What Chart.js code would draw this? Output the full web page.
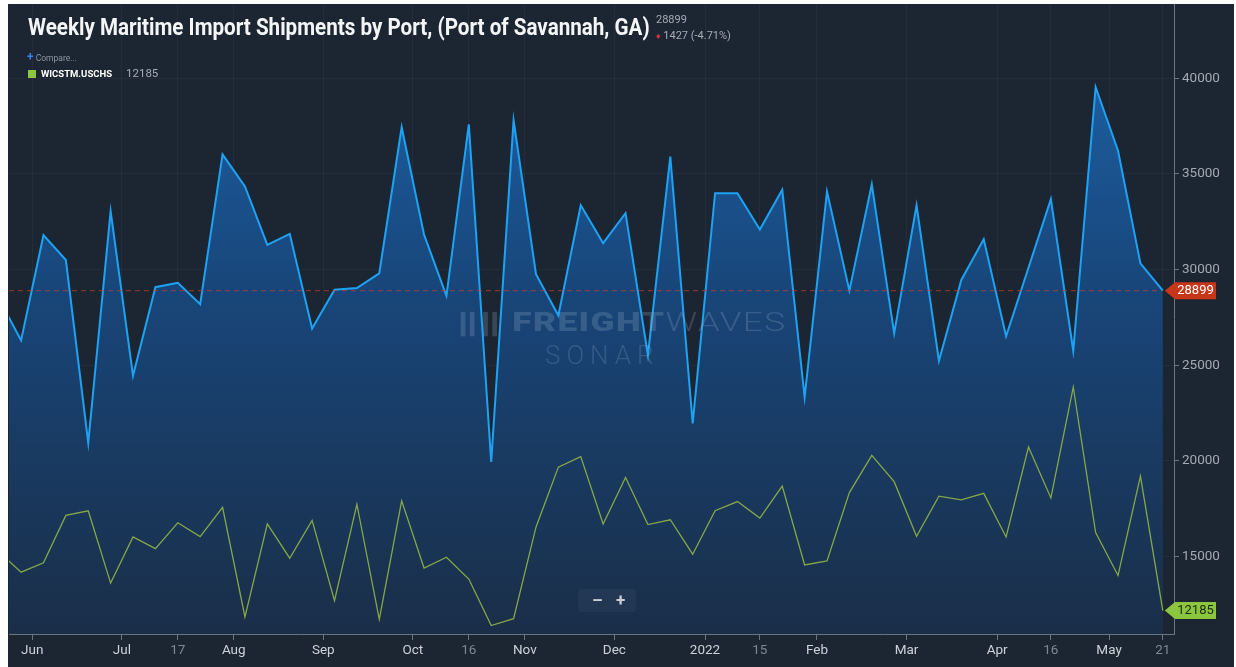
<!DOCTYPE html>
<html lang="en">
<head>
<meta charset="UTF-8" />
<title>Weekly Maritime Import Shipments by Port, (Port of Savannah, GA)</title>
<script src="https://cdn.jsdelivr.net/npm/chart.js@4.4.1/dist/chart.umd.min.js"></script>
<style>
  html, body { margin: 0; padding: 0; background: #fff; }
  body { width: 1236px; height: 667px; position: relative; overflow: hidden; font-family: Roboto, 'Noto Sans', sans-serif; }
  .panel { position: absolute; left: 8px; top: 4px; width: 1226px; height: 663px; background: #1c2632; }
  .panel canvas { position: absolute; left: 0; top: 0; }
  .overlay { position: absolute; white-space: nowrap; pointer-events: none; }
  .title { left: 20px; top: 11px; font-weight: 700; font-size: 24px; line-height: 24px; color: #f3f5f7; transform-origin: left top; }
  .last { left: 648px; top: 10px; font-size: 11px; line-height: 12px; color: #a4acb5; }
  .change { left: 648px; top: 26px; font-size: 11px; line-height: 12px; color: #a4acb5; }
  .change b { color: #e2313d; font-size: 9px; font-weight: 400; }
  .compare { left: 19px; top: 48px; font-size: 8.5px; line-height: 10px; color: #8d96a0; }
  .compare b { color: #2f86e8; font-size: 12px; font-weight: 700; }
  .series { left: 20px; top: 64px; font-size: 9.5px; line-height: 11px; color: #fff; font-weight: 700; }
  .series i { display: inline-block; width: 8px; height: 8px; background: #8dc63f; margin-right: 5px; vertical-align: -1px; }
  .series span { color: #a4acb5; font-weight: 400; font-size: 11.5px; margin-left: 14px; }
  .wm1 { left: 449px; top: 306px; font-size: 25px; line-height: 26px; color: rgba(170,190,215,0.22); letter-spacing: 1px; transform-origin: left top; }
  .wm1 b { font-weight: 900; }
  .wm1 span { font-weight: 300; }
  .wm2 { left: 537px; top: 337px; font-size: 26px; line-height: 28px; color: rgba(170,190,215,0.2); font-weight: 300; letter-spacing: 6px; }
  .zoom { left: 570px; top: 585px; width: 58px; height: 23px; background: rgba(255,255,255,0.035); border-radius: 3px; color: #c9ced4; font-size: 17px; font-weight: 700; line-height: 23px; }
  .zoom span { position: absolute; top: 0; }
</style>
</head>
<body>
<div class="panel">
  <canvas id="chart"></canvas>
  <div class="overlay title" id="title">Weekly Maritime Import Shipments by Port, (Port of Savannah, GA)</div>
  <div class="overlay last">28899</div>
  <div class="overlay change"><b>&#9830;</b> 1427 (-4.71%)</div>
  <div class="overlay compare"><b>+</b> Compare...</div>
  <div class="overlay series"><i></i>WICSTM.USCHS<span>12185</span></div>
  <div class="overlay wm1" id="wm1"><b>&#8214;&#8214; FREIGHT</b><span>WAVES</span></div>
  <div class="overlay wm2">SONAR</div>
  <div class="overlay zoom"><span style="left:14px">&#8211;</span><span style="left:38px">+</span></div>
</div>

<script>
// weekly observations (Saturdays)
const weeks = [
  '2021-05-22', '2021-05-29', '2021-06-05', '2021-06-12', '2021-06-19', '2021-06-26',
  '2021-07-03', '2021-07-10', '2021-07-17', '2021-07-24', '2021-07-31',
  '2021-08-07', '2021-08-14', '2021-08-21', '2021-08-28',
  '2021-09-04', '2021-09-11', '2021-09-18', '2021-09-25',
  '2021-10-02', '2021-10-09', '2021-10-16', '2021-10-23', '2021-10-30',
  '2021-11-06', '2021-11-13', '2021-11-20', '2021-11-27',
  '2021-12-04', '2021-12-11', '2021-12-18', '2021-12-25',
  '2022-01-01', '2022-01-08', '2022-01-15', '2022-01-22', '2022-01-29',
  '2022-02-05', '2022-02-12', '2022-02-19', '2022-02-26',
  '2022-03-05', '2022-03-12', '2022-03-19', '2022-03-26',
  '2022-04-02', '2022-04-09', '2022-04-16', '2022-04-23', '2022-04-30',
  '2022-05-07', '2022-05-14', '2022-05-21'
];

// Port of Savannah import shipments
const savannah = [
  28500, 26300, 31800, 30500, 20950, 33050, 24450, 29080, 29310, 28190, 36020,
  34350, 31290, 31870, 26920, 28950, 29040, 29800, 37440, 31830, 28630, 37590,
  19950, 37800, 29760, 27600, 33360, 31380, 32950, 25530, 35910, 21970, 33990,
  33990, 32100, 34170, 23330, 34080, 28900, 34460, 26670, 33360, 25230, 29460,
  31590, 26520, 30100, 33680, 25760, 39530, 36210, 30326, 28899
];

// WICSTM.USCHS (Charleston)
const charleston = [
  15270, 14190, 14680, 17160, 17400, 13620, 16030, 15420, 16770, 16050, 17580,
  11850, 16710, 14920, 16900, 12700, 17740, 11730, 17920, 14410, 14970, 13830,
  11400, 11760, 16540, 19680, 20230, 16710, 19140, 16680, 16930, 15130, 17400,
  17880, 17020, 18690, 14570, 14780, 18350, 20290, 18920, 16070, 18160, 17970,
  18310, 16030, 20730, 18070, 23860, 16260, 14020, 19210, 12185
];

// x-axis ticks, in week-index units
const xTickPos    = [1.5, 5.5, 8, 10.5, 14.5, 18.5, 21, 23.5, 27.5, 31.55, 34, 36.55, 40.55, 44.6, 47, 49.6, 52];
const xTickLabels = ['Jun', 'Jul', '17', 'Aug', 'Sep', 'Oct', '16', 'Nov', 'Dec', '2022', '15', 'Feb', 'Mar', 'Apr', '16', 'May', '21'];
const yTicks = [15000, 20000, 25000, 30000, 35000, 40000];

const lastValues = {
  id: 'lastValues',
  afterDatasetsDraw(chart) {
    const { ctx, chartArea, scales: { x, y } } = chart;
    const n = savannah.length - 1;
    const xEnd = x.getPixelForValue(n);
    const yRed = y.getPixelForValue(savannah[n]);
    ctx.save();
    ctx.strokeStyle = 'rgba(196,62,40,0.6)';
    ctx.lineWidth = 1.2;
    ctx.setLineDash([5, 4]);
    ctx.beginPath();
    ctx.moveTo(chartArea.left, yRed);
    ctx.lineTo(xEnd, yRed);
    ctx.stroke();
    ctx.setLineDash([]);

    const badge = (yc, value, bg, fg) => {
      const tip = xEnd + 2, l = chartArea.right + 1, r = chartArea.right + 42, h = 8.5;
      ctx.fillStyle = bg;
      ctx.beginPath();
      ctx.moveTo(tip, yc);
      ctx.lineTo(l, yc - h);
      ctx.lineTo(r, yc - h);
      ctx.lineTo(r, yc + h);
      ctx.lineTo(l, yc + h);
      ctx.closePath();
      ctx.fill();
      ctx.fillStyle = fg;
      ctx.font = '13px Roboto';
      ctx.textAlign = 'center';
      ctx.textBaseline = 'middle';
      ctx.fillText(String(value), (l + r) / 2, yc + 0.5);
    };
    badge(yRed, savannah[n], '#c8361a', '#ffffff');
    badge(y.getPixelForValue(charleston[n]), charleston[n], '#8cc63e', '#1c2a10');
    ctx.restore();
  }
};

const monthLabels = ['Jun', 'Jul', 'Aug', 'Sep', 'Oct', 'Nov', 'Dec', '2022', 'Feb', 'Mar', 'Apr', 'May'];

new Chart(document.getElementById('chart'), {
  type: 'line',
  data: {
    labels: weeks,
    datasets: [
      {
        label: 'WICSTM.USCHS',
        data: charleston.map((v, i) => ({ x: i, y: v })),
        borderColor: '#86a748',
        borderWidth: 1.3,
        pointRadius: 0,
        tension: 0,
        fill: false
      },
      {
        label: 'Port of Savannah',
        data: savannah.map((v, i) => ({ x: i, y: v })),
        borderColor: '#1ea2f4',
        borderWidth: 2,
        pointRadius: 0,
        tension: 0,
        fill: 'start',
        backgroundColor(c) {
          const { ctx, chartArea } = c.chart;
          if (!chartArea) return 'rgba(0,0,0,0)';
          const g = ctx.createLinearGradient(0, chartArea.top, 0, chartArea.bottom);
          g.addColorStop(0, '#1e66ad');
          g.addColorStop(0.45, '#18467a');
          g.addColorStop(1, '#1a2e48');
          return g;
        }
      }
    ]
  },
  options: {
    responsive: true,
    maintainAspectRatio: false,
    animation: false,
    layout: { padding: { left: 1, top: 0, right: 0, bottom: 0 } },
    plugins: { legend: { display: false }, tooltip: { enabled: false } },
    scales: {
      x: {
        type: 'linear',
        min: 0.46,
        max: 52.5,
        afterBuildTicks(s) { s.ticks = xTickPos.map(v => ({ value: v })); },
        afterFit(s) { s.height = 33; s.paddingLeft = 0; s.paddingRight = 0; },
        grid: { color: 'rgba(255,255,255,0.035)', tickColor: '#6c7680', tickLength: 6 },
        border: { color: '#6c7680', width: 1 },
        ticks: {
          autoSkip: false,
          maxRotation: 0,
          padding: 3,
          font: { family: 'Roboto', size: 13.5 },
          color: c => monthLabels.includes(xTickLabels[c.index]) ? '#cdd2d8' : '#7f8892',
          callback: (v, i) => xTickLabels[i]
        }
      },
      y: {
        position: 'right',
        min: 10960,
        max: 43880,
        afterBuildTicks(s) { s.ticks = yTicks.map(v => ({ value: v })); },
        afterFit(s) { s.width = 60; s.paddingTop = 0; s.paddingBottom = 0; },
        grid: { color: 'rgba(255,255,255,0.03)', tickColor: '#6c7680', tickLength: 5 },
        border: { color: '#6c7680', width: 1 },
        ticks: {
          padding: 3,
          font: { family: 'Roboto', size: 13.5 },
          color: '#a3aab3',
          callback: v => String(v)
        }
      }
    }
  },
  plugins: [lastValues]
});

// squeeze the title to the condensed width of the original
const t = document.getElementById('title');
t.style.transform = 'scaleX(' + (622 / t.offsetWidth) + ')';
const w = document.getElementById('wm1');
w.style.transform = 'scaleX(' + (330 / w.offsetWidth) + ')';
</script>
</body>
</html>
